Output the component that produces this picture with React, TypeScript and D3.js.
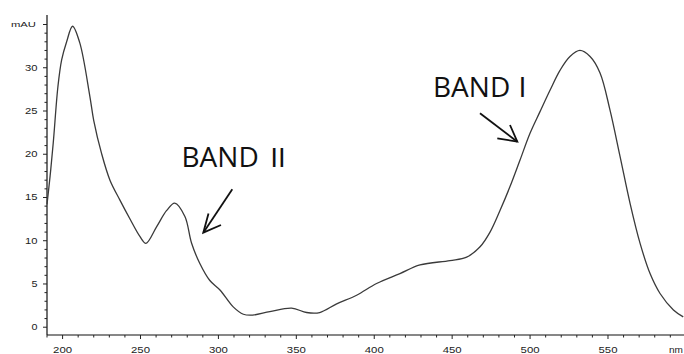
import React from "react";
import * as d3 from "d3";

// UV-Vis spectrum
const wavelengths = [190, 192, 194, 197, 199.4, 202.6, 206.4, 211, 217.5, 220, 225, 230.4, 236.8, 243, 249.6, 253.5,
  260.3, 266.8, 272, 278.5, 282.8, 288, 294.5, 301, 309.5, 316, 322, 333, 347, 356.6, 365, 375.9, 388.7, 401.5,
  416.5, 429.4, 448.6, 459.3, 467.9, 474.3, 480.7, 487, 493.5, 499.9, 506.3, 512.8, 519.2, 525.6, 532, 538.5,
  544.9, 551.3, 557.8, 564.2, 570.6, 577, 583.4, 592, 598.3];
const absorbance = [14.2, 17.5, 21.3, 27.8, 30.9, 33.0, 34.8, 32.9, 26.7, 23.9, 20.1, 17.0, 14.7, 12.6, 10.5, 9.7,
  11.6, 13.5, 14.35, 12.8, 9.7, 7.4, 5.4, 4.3, 2.35, 1.5, 1.4, 1.8, 2.2, 1.7, 1.7, 2.7, 3.7, 5.05,
  6.2, 7.2, 7.7, 8.1, 9.3, 11.0, 13.5, 16.2, 19.3, 22.4, 24.9, 27.4, 29.7, 31.3, 32.0, 31.3,
  29.4, 25.1, 19.7, 14.3, 9.7, 6.2, 3.9, 2.0, 1.2];

const xTickLabels = [200, 250, 300, 350, 400, 450, 500, 550];
const yTickLabels = [0, 5, 10, 15, 20, 25, 30];

const bandWord = "BAND";
const bandNumerals = ["Ⅱ", "I"];

export default function App() {
  const width = 684, height = 354;
  const x = d3.scaleLinear().domain([190, 600]).range([47, 685.9]);
  const y = d3.scaleLinear().domain([-0.9, 36.1]).range([335, 15]);

  const pts = wavelengths.map((w, i) => [w, absorbance[i]] as [number, number]);
  const line = d3.line<[number, number]>()
    .x(d => x(d[0]))
    .y(d => y(d[1]))
    .curve(d3.curveCatmullRom.alpha(0.5));

  const xMinor = d3.range(190, 601, 10);
  const yMinor = d3.range(0, 36, 1);
  const axisY = y(-0.9);
  const axisX = x(190);
  const tickFont = "'Liberation Sans', Arial, sans-serif";
  const bandFont = "'Open Sans', sans-serif";

  return (
    <svg width={width} height={height} style={{ position: "absolute", left: 0, top: 0, background: "#fff" }}>
      {/* x axis */}
      <line x1={axisX} x2={width} y1={axisY} y2={axisY} stroke="#111" strokeWidth={1.2} />
      {xMinor.map(t => (
        <line key={"xm" + t} x1={x(t)} x2={x(t)} y1={axisY} y2={axisY + (t % 50 === 0 ? 4 : 2.5)} stroke="#222" strokeWidth={1} />
      ))}
      {xTickLabels.map(t => (
        <text key={"xl" + t} x={x(t)} y={353} textAnchor="middle" fontFamily={tickFont} fontSize={9}
          fill="#222" textLength={19} lengthAdjust="spacingAndGlyphs">{t}</text>
      ))}
      <text x={669} y={353} fontFamily={tickFont} fontSize={9} fill="#222" textLength={14} lengthAdjust="spacingAndGlyphs">nm</text>

      {/* y axis */}
      <line x1={axisX} x2={axisX} y1={15} y2={axisY} stroke="#111" strokeWidth={1.2} />
      {yMinor.map(t => (
        <line key={"ym" + t} x1={axisX - (t % 5 === 0 ? 4 : 2.5)} x2={axisX} y1={y(t)} y2={y(t)} stroke="#222" strokeWidth={1} />
      ))}
      {yTickLabels.map(t => (
        <text key={"yl" + t} x={37.5} y={y(t) + 3} textAnchor="end" fontFamily={tickFont} fontSize={8.5}
          fill="#222" textLength={t < 10 ? 6 : 12.5} lengthAdjust="spacingAndGlyphs">{t}</text>
      ))}
      <text x={36} y={y(35) + 2} textAnchor="end" fontFamily={tickFont} fontSize={8} fill="#222"
        textLength={25} lengthAdjust="spacingAndGlyphs">mAU</text>

      {/* spectrum */}
      <path d={line(pts) || ""} fill="none" stroke="#3a3a3a" strokeWidth={1.3} />

      {/* annotations */}
      <text x={181.5} y={166.7} fontFamily={bandFont} fontSize={28} fill="#111">
        {bandWord}
        <tspan x={265} fontFamily="'Noto Sans CJK JP', sans-serif" fontSize={26}>{bandNumerals[0]}</tspan>
      </text>
      <line x1={232.3} y1={189.3} x2={203.3} y2={232.7} stroke="#111" strokeWidth={1.8} />
      <polyline points="208.5,213.5 203.3,232.7 221,225" fill="none" stroke="#111" strokeWidth={1.8} />

      <text x={433} y={96.7} fontFamily={bandFont} fontSize={28} fill="#111">
        {bandWord}
        <tspan x={518.5} fontFamily="'Noto Sans CJK JP', sans-serif" fontSize={27}>{bandNumerals[1]}</tspan>
      </text>
      <line x1={480} y1={113.3} x2={517.3} y2={141.7} stroke="#111" strokeWidth={1.8} />
      <polyline points="497.3,138.3 517.3,141.7 510,125" fill="none" stroke="#111" strokeWidth={1.8} />
    </svg>
  );
}
